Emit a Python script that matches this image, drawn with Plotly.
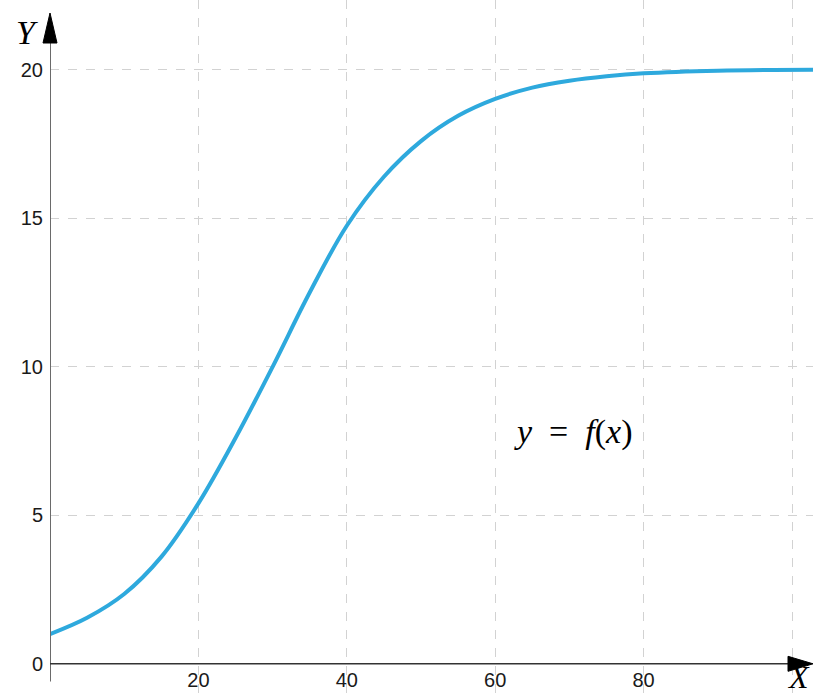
import plotly.graph_objects as go

# values
x_vals = [0, 5, 10, 15, 20, 25, 30, 35, 40, 45, 50, 55, 60, 65, 70, 75, 80, 90, 103]
y_vals = [1.0, 1.55, 2.35, 3.6, 5.4, 7.6, 10.0, 12.5, 14.75, 16.4, 17.6, 18.45, 19.02, 19.4, 19.63, 19.78, 19.88, 19.97, 20.0]

x_ticks = [20, 40, 60, 80, 100]
x_tick_text = ["20", "40", "60", "80", ""]
y_ticks = [0, 5, 10, 15, 20]
y_tick_text = ["0", "5", "10", "15", "20"]

W, H = 813, 698
ML = 50
px_per_x = 7.42
px_per_y = 29.7
y0_px = 663.8  # pixel row of y=0

x_max = (W - ML) / px_per_x
y_top = y0_px / px_per_y
y_bot = -(H - y0_px) / px_per_y

fig = go.Figure()
fig.add_trace(go.Scatter(
    x=x_vals, y=y_vals, mode="lines",
    line=dict(color="#2ea9dd", width=4, shape="spline", smoothing=1.0),
    hoverinfo="skip", showlegend=False,
))

tick_font = dict(family="Liberation Sans, Arial, sans-serif", size=20, color="#1a1a1a")
grid_color = "#d2d2d2"

fig.update_layout(
    width=W, height=H,
    margin=dict(l=ML, r=0, t=0, b=0),
    paper_bgcolor="white", plot_bgcolor="white",
    xaxis=dict(
        range=[0, x_max], tickvals=x_ticks, ticktext=x_tick_text,
        showgrid=True, gridcolor=grid_color, griddash="dash", gridwidth=1,
        zeroline=False, showline=False, ticks="", automargin=False,
        anchor="free", position=(H - y0_px) / H,
        tickfont=tick_font, ticklabelstandoff=2,
    ),
    yaxis=dict(
        range=[y_bot, y_top], tickvals=y_ticks, ticktext=y_tick_text,
        showgrid=True, gridcolor=grid_color, griddash="dash", gridwidth=1,
        zeroline=False, showline=False, ticks="", automargin=False,
        tickfont=tick_font, ticklabelstandoff=6,
    ),
)

# y axis line (data) and arrow (paper, so it is not clipped)
fig.add_shape(type="line", x0=0, x1=0, y0=-0.6, y1=(y0_px - 40) / px_per_y,
              line=dict(color="#6a6a6a", width=2), layer="above")
fig.add_shape(type="path", xref="paper", yref="paper",
              xsizemode="pixel", ysizemode="pixel",
              xanchor=0, yanchor=(H - 13) / H,
              path="M 0 0 L -7 -30 L 7 -30 Z",
              fillcolor="black", line=dict(color="black", width=1), layer="above")

# x axis line and arrow
fig.add_shape(type="line", x0=0, x1=(790 - ML) / px_per_x, y0=0, y1=0,
              line=dict(color="#333333", width=1.5), layer="above")
fig.add_shape(type="path", xref="paper", yref="paper",
              xsizemode="pixel", ysizemode="pixel",
              xanchor=1, yanchor=(H - y0_px) / H,
              path="M 0 0 L -25 7.5 L -25 -7.5 Z",
              fillcolor="black", line=dict(color="black", width=1), layer="above")

serif = "Liberation Serif, Times New Roman, serif"
fig.add_annotation(text="<i>Y</i>", xref="paper", yref="paper",
                   x=-ML / (W - ML) + 27 / (W - ML), y=1 - 32 / H,
                   xanchor="center", yanchor="middle", showarrow=False,
                   font=dict(family=serif, size=34, color="black"))
fig.add_annotation(text="<i>X</i>", xref="paper", yref="paper",
                   x=(798 - ML) / (W - ML), y=1 / H,
                   xanchor="center", yanchor="bottom", showarrow=False,
                   font=dict(family=serif, size=32, color="black"))
fig.add_annotation(text="<i>y</i>&nbsp;&nbsp;=&nbsp;&nbsp;<i>f</i>(<i>x</i>)", x=70.5, y=7.8,
                   xanchor="center", yanchor="middle", showarrow=False,
                   font=dict(family=serif, size=34, color="black"))

fig.write_html("out.html", config={"displayModeBar": False},
               post_script="document.body.style.margin='0';document.body.style.overflow='hidden';")
